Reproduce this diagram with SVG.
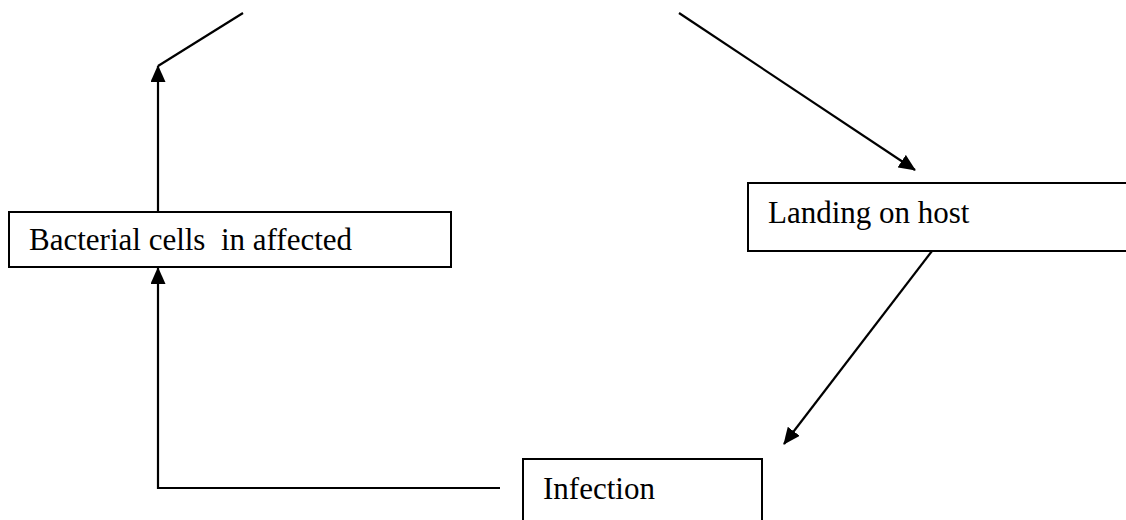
<svg xmlns="http://www.w3.org/2000/svg" width="1126" height="520" viewBox="0 0 1126 520">
  <style>
    .box { fill: #ffffff; stroke: #000000; stroke-width: 2; }
    .label { font-family: "Liberation Serif", "Times New Roman", serif; font-size: 31px; fill: #000000; }
    .wire { fill: none; stroke: #000000; stroke-width: 2.2; }
    .arrow { marker-end: url(#head); }
  </style>
  <defs>
    <marker id="head" markerUnits="userSpaceOnUse" markerWidth="17" markerHeight="15" refX="16" refY="7.5" orient="auto">
      <path d="M0,0 L17,7.5 L0,15 z" fill="#000000"/>
    </marker>
  </defs>
  <rect width="1126" height="520" fill="#ffffff"/>

  <g id="connectors">
    <!-- open line at the top left -->
    <path class="wire" d="M158,66 L243,13"/>
    <!-- up from the bacterial cells box -->
    <path class="wire arrow" d="M158,212 V66"/>
    <!-- down toward landing on host -->
    <path class="wire arrow" d="M679,13 L915,170"/>
    <!-- landing on host to infection -->
    <path class="wire arrow" d="M932,251 L784,444"/>
    <!-- infection back to bacterial cells -->
    <path class="wire arrow" d="M500,488 H158 V268"/>
  </g>

  <g id="node-bacterial">
    <rect class="box" x="9" y="212" width="442" height="55"/>
    <text class="label" x="29" y="250" xml:space="preserve">Bacterial cells  in affected</text>
  </g>

  <g id="node-landing">
    <rect class="box" x="748" y="183" width="390" height="68"/>
    <text class="label" x="768" y="223">Landing on host</text>
  </g>

  <g id="node-infection">
    <rect class="box" x="523" y="459" width="239" height="80"/>
    <text class="label" x="543" y="499">Infection</text>
  </g>
</svg>
